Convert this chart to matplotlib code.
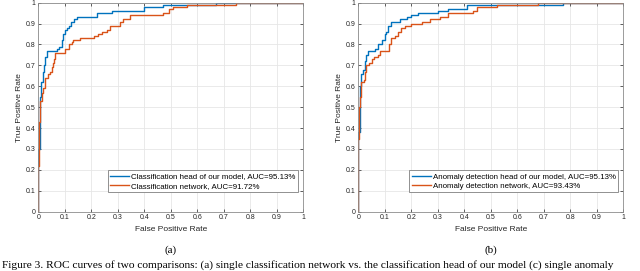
import matplotlib
matplotlib.use('Agg')
import matplotlib.pyplot as plt

# ROC points (fpr, tpr), step curves
cls_head_fpr = [0, 0, 0.005, 0.008, 0.012, 0.016, 0.02, 0.025, 0.032, 0.069, 0.078, 0.09, 0.095, 0.1, 0.11, 0.115, 0.12, 0.125, 0.135, 0.145, 0.22, 0.277, 0.40, 0.47, 0.671, 1.0]
cls_head_tpr = [0, 0.3, 0.45, 0.55, 0.62, 0.67, 0.7, 0.74, 0.77, 0.78, 0.79, 0.82, 0.85, 0.87, 0.88, 0.89, 0.89, 0.91, 0.92, 0.93, 0.95, 0.96, 0.98, 0.99, 1.0, 1.0]

cls_net_fpr = [0, 0, 0.004, 0.007, 0.013, 0.019, 0.025, 0.035, 0.045, 0.05, 0.055, 0.06, 0.065, 0.1, 0.117, 0.126, 0.132, 0.157, 0.21, 0.226, 0.24, 0.258, 0.27, 0.308, 0.32, 0.346, 0.47, 0.494, 0.51, 0.56, 0.746, 1.0]
cls_net_tpr = [0, 0.22, 0.43, 0.53, 0.57, 0.59, 0.64, 0.66, 0.67, 0.69, 0.71, 0.73, 0.76, 0.78, 0.80, 0.81, 0.82, 0.83, 0.84, 0.85, 0.86, 0.87, 0.89, 0.91, 0.92, 0.94, 0.95, 0.97, 0.98, 0.99, 1.0, 1.0]

ano_head_fpr = [0, 0, 0.005, 0.008, 0.012, 0.018, 0.024, 0.03, 0.038, 0.063, 0.075, 0.09, 0.1, 0.106, 0.112, 0.122, 0.157, 0.183, 0.2, 0.225, 0.258, 0.3, 0.34, 0.41, 0.773, 1.0]
ano_head_tpr = [0, 0.38, 0.5, 0.6, 0.66, 0.68, 0.72, 0.75, 0.77, 0.78, 0.80, 0.82, 0.85, 0.86, 0.89, 0.91, 0.92, 0.93, 0.94, 0.95, 0.95, 0.96, 0.97, 0.99, 1.0, 1.0]

ano_net_fpr = [0, 0, 0.004, 0.008, 0.012, 0.02, 0.024, 0.03, 0.04, 0.05, 0.06, 0.075, 0.082, 0.117, 0.122, 0.138, 0.15, 0.16, 0.176, 0.2, 0.239, 0.27, 0.308, 0.34, 0.433, 0.447, 0.522, 0.68, 1.0]
ano_net_tpr = [0, 0.35, 0.5, 0.55, 0.62, 0.63, 0.67, 0.7, 0.71, 0.73, 0.74, 0.75, 0.77, 0.80, 0.83, 0.84, 0.86, 0.88, 0.89, 0.90, 0.91, 0.92, 0.93, 0.95, 0.96, 0.98, 0.99, 1.0, 1.0]

labels_a = ['Classification head of our model, AUC=95.13%', 'Classification network, AUC=91.72%']
labels_b = ['Anomaly detection head of our model, AUC=95.13%', 'Anomaly detection network, AUC=93.43%']
ticks = [0, 0.1, 0.2, 0.3, 0.4, 0.5, 0.6, 0.7, 0.8, 0.9, 1]
tick_labels = ['0', '0.1', '0.2', '0.3', '0.4', '0.5', '0.6', '0.7', '0.8', '0.9', '1']
caption = ('Figure 3. ROC curves of two comparisons: (a) single classification network vs. '
           'the classification head of our model (c) single anomaly')

blue = '#0072BD'
orange = '#D95319'

plt.rcParams['font.family'] = ['Liberation Sans', 'DejaVu Sans']

fig = plt.figure(figsize=(6.4, 2.71), dpi=100)
ax_a = fig.add_axes([0.0598, 0.219, 0.414, 0.771])
ax_b = fig.add_axes([0.5598, 0.219, 0.414, 0.771])


def draw_panel(ax, head, net, labels, letter):
    ax.plot(head[0], head[1], drawstyle='steps-post', color=blue, lw=1.0, label=labels[0])
    ax.plot(net[0], net[1], drawstyle='steps-post', color=orange, lw=1.0, label=labels[1])
    ax.set_xlim(0, 1)
    ax.set_ylim(0, 1)
    ax.set_xticks(ticks)
    ax.set_xticklabels(tick_labels)
    ax.set_yticks(ticks)
    ax.set_yticklabels(tick_labels)
    ax.tick_params(direction='in', length=2, width=0.5, labelsize=5, colors='#262626',
                   top=True, right=True, pad=2)
    ax.grid(True, color='#e6e6e6', lw=0.6)
    ax.set_axisbelow(True)
    for s in ax.spines.values():
        s.set_color('#8c8c8c')
        s.set_linewidth(0.6)
    ax.set_xlabel('False Positive Rate', fontsize=6, color='#262626', labelpad=3)
    ax.set_ylabel('True Positive Rate', fontsize=6, color='#262626', labelpad=2)
    leg = ax.legend(loc='lower right', bbox_to_anchor=(0.982, 0.092), fontsize=5.7,
                    handlelength=2.4, handletextpad=0.25, borderpad=0.35, labelspacing=0.2,
                    fancybox=False, framealpha=1, borderaxespad=0)
    leg.get_frame().set_edgecolor('#7f7f7f')
    leg.get_frame().set_linewidth(0.6)
    ax.text(0.5, -0.16, letter, transform=ax.transAxes, ha='center', va='top',
            fontsize=8, family=['Liberation Serif'])


draw_panel(ax_a, (cls_head_fpr, cls_head_tpr), (cls_net_fpr, cls_net_tpr), labels_a, '(a)')
draw_panel(ax_b, (ano_head_fpr, ano_head_tpr), (ano_net_fpr, ano_net_tpr), labels_b, '(b)')

fig.text(0.003, 0.004, caption, ha='left', va='bottom', fontsize=8.2, family=['Liberation Serif'])

fig.savefig('out.png', dpi=100)
